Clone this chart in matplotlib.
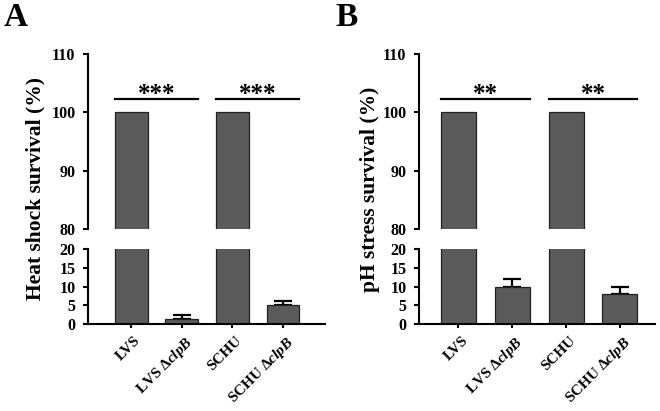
import matplotlib
matplotlib.use("Agg")
import matplotlib.pyplot as plt
import matplotlib.transforms as mtransforms
import numpy as np

plt.rcParams['font.family'] = 'serif'
plt.rcParams['font.serif'] = ['Liberation Serif']
plt.rcParams['font.weight'] = 'bold'
plt.rcParams['mathtext.fontset'] = 'custom'
plt.rcParams['mathtext.rm'] = 'Liberation Serif:bold'
plt.rcParams['mathtext.it'] = 'Liberation Serif:italic:bold'
plt.rcParams['mathtext.bf'] = 'Liberation Serif:bold'
plt.rcParams['ytick.labelsize'] = 11.5
plt.rcParams['xtick.labelsize'] = 11

categories = ["LVS", "LVS \u0394$\\mathit{clpB}$", "SCHU", "SCHU \u0394$\\mathit{clpB}$"]
heat_values = [100, 1.3, 100, 5.1]
heat_errors = [0, 1.2, 0, 1.1]
ph_values = [100, 9.9, 100, 8.1]
ph_errors = [0, 2.0, 0, 1.8]
heat_stars = ["***", "***"]
ph_stars = ["**", "**"]
top_ticks = [80, 90, 100, 110]
bottom_ticks = [0, 5, 10, 15, 20]

W, H = 660, 411
fig = plt.figure(figsize=(6.6, 4.11), dpi=100)

bar_color = '#5a5a5a'
lw = 1.5

def fx(px):
    return px / W

def fy(py):
    return 1 - py / H

def panel(x0, x1, values, errors, stars, ylabel, letter, xlim, ylab_off):
    top = fig.add_axes([fx(x0), fy(229), fx(x1 - x0), fy(54) - fy(229)])
    bot = fig.add_axes([fx(x0), fy(324), fx(x1 - x0), fy(249) - fy(324)])
    x = np.arange(len(values))
    vals = np.array(values, dtype=float)
    errs = np.array(errors, dtype=float)
    has = errs > 0
    for ax in (top, bot):
        ax.bar(x, vals, width=0.65, color=bar_color, edgecolor='#222222', linewidth=0.9,
               zorder=2)
        ax.errorbar(x[has], vals[has], yerr=[np.zeros(has.sum()), errs[has]], fmt='none',
                    ecolor='black', elinewidth=1.6, capsize=6.5, capthick=1.6, zorder=1)
        ax.set_xlim(*xlim)
        for s in ('top', 'right'):
            ax.spines[s].set_visible(False)
        ax.spines['left'].set_linewidth(lw)
        ax.spines['bottom'].set_linewidth(lw)
    top.set_ylim(80, 110)
    top.set_yticks(top_ticks)
    top.set_yticklabels([str(t) for t in top_ticks], fontsize=11.5, fontweight='bold',
                        family='Liberation Serif')
    bot.set_ylim(0, 20)
    bot.set_yticks(bottom_ticks)
    bot.set_yticklabels([str(t) for t in bottom_ticks], fontsize=11.5, fontweight='bold',
                        family='Liberation Serif')
    bot.set_xticks(x)
    bot.set_xticklabels(categories, rotation=45, ha='right', va='top',
                        rotation_mode='anchor', fontsize=11, fontweight='bold',
                        family='Liberation Serif')
    for ax in (top, bot):
        ax.tick_params(axis='y', direction='out', length=3.5, width=lw, pad=5.5)
    top.spines['bottom'].set_visible(False)
    top.tick_params(axis='x', bottom=False, labelbottom=False)
    bot.tick_params(axis='x', direction='out', length=3, width=lw, pad=0)
    offset = mtransforms.ScaledTranslation(0.03, -0.06, fig.dpi_scale_trans)
    for lab in bot.get_xticklabels():
        lab.set_transform(lab.get_transform() + offset)
    for i, s in enumerate(stars):
        a, b = 2 * i, 2 * i + 1
        xa, xb = a - 0.325, b + 0.325
        top.plot([xa, xb], [102.3, 102.3], color='black', lw=1.6, clip_on=False)
        top.text((xa + xb) / 2, 102.0, s, ha='center', va='baseline', fontsize=18,
                 fontweight='bold')
    fig.text(fx(x0 - ylab_off), fy(189), ylabel, rotation=90, ha='center', va='center',
             fontsize=15.5, fontweight='bold')
    fig.text(fx(x0 - 84), fy(17), letter, ha='left', va='center', fontsize=24,
             fontweight='bold')

panel(88, 325, heat_values, heat_errors, heat_stars, "Heat shock survival (%)", "A", (-0.85, 3.83), 53)
panel(419, 655, ph_values, ph_errors, ph_stars, "pH stress survival (%)", "B", (-0.73, 3.65), 49)

fig.savefig("out.png", dpi=100)
